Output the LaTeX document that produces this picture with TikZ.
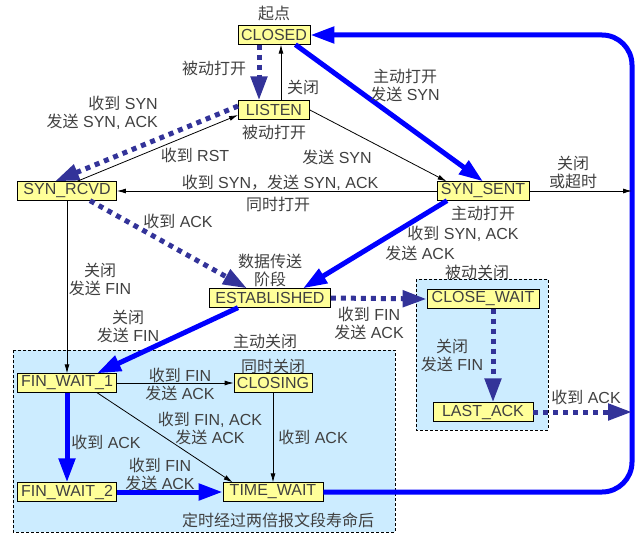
\documentclass[tikz,border=0pt]{standalone}
\usepackage{fontspec}
\setmainfont{Liberation Sans}
\newfontfamily\cjk{Noto Sans CJK SC}
\newcommand{\zh}[1]{{\cjk #1}}
\usetikzlibrary{arrows.meta}
\usetikzlibrary{positioning}
\definecolor{stfill}{RGB}{255,255,153}
\definecolor{zonefill}{RGB}{204,236,255}
\definecolor{txt}{RGB}{64,64,64}
\definecolor{dotblue}{RGB}{51,51,153}
\definecolor{fatblue}{RGB}{0,0,255}
\begin{document}
\begin{tikzpicture}[x=1pt,y=-1pt,font=\fontsize{16}{18}\selectfont,text=txt,
	st/.style={draw,fill=stfill,inner sep=1pt,minimum height=18.5pt,line width=0.8pt},
	zone/.style={draw,dash pattern=on 3pt off 2pt,fill=zonefill,line width=0.7pt},
	blk/.style={line width=0.8pt,-{Latex[length=9pt,width=5pt]}},
	fat/.style={fatblue,line width=5pt,-{Triangle[length=24pt,width=16pt]}},
	dots/.style={dotblue,line width=5pt,dash pattern=on 5pt off 5pt,-{Triangle[length=24pt,width=16pt]}},
	lbl/.style={align=center,inner sep=0pt}]
				\useasboundingbox (0,0) rectangle (642,535);
				\draw [zone] (13,350) rectangle (395,532); \draw [zone] (416,279) rectangle (548,430);
				\coordinate (rt) at (632,0);
				% states
				\node (CLOSED) [st,minimum width=72pt] at (274,35) {CLOSED}; \node (LISTEN) [st,minimum width=71pt] at (274,110) {LISTEN};
				\node (RCVD) [st,minimum width=99pt] at (67,191) {SYN\_RCVD}; \node (SENT) [st,minimum width=92pt] at (483,191) {SYN\_SENT};
				\node (EST) [st,minimum width=121pt] at (270,298) {ESTABLISHED}; \node (CW) [st,minimum width=112pt] at (483,299) {CLOSE\_WAIT};
				\node (LA) [st,minimum width=100pt] at (483,412) {LAST\_ACK};
				\node (FW1) [st,minimum width=99pt] at (67,383) {FIN\_WAIT\_1}; \node (CLOSING) [st,minimum width=78pt] at (273,383) {CLOSING};
				\node (FW2) [st,minimum width=99pt] at (67,492) {FIN\_WAIT\_2}; \node (TW) [st,minimum width=100pt] at (273,492) {TIME\_WAIT};
				% transitions
				\draw [fatblue,line width=5pt,rounded corners=30pt,-{Triangle[length=24pt,width=16pt]}] (TW.east) -- (TW.east -| rt) -- (CLOSED.east -| rt) -- (CLOSED.east);
				\draw [dots] ([xshift=-15pt]CLOSED.south) -- ([xshift=-15pt]LISTEN.north); \draw [blk] ([xshift=7pt]LISTEN.north) -- ([xshift=7pt]CLOSED.south);
				\draw [fat] ([xshift=-15pt]CLOSED.south east) -- (SENT.north); \draw [blk] (LISTEN.east) -- ([xshift=10pt]SENT.north west);
				\draw [dots] ([yshift=4pt]LISTEN.west) -- ([xshift=-12pt]RCVD.north); \draw [blk] ([xshift=10pt]RCVD.north) -- ([yshift=-5pt]LISTEN.west);
				\draw [blk] (SENT.west) -- (RCVD.east); \draw [blk] (SENT.east) -- (SENT.east -| rt);
				\draw [dots] ([xshift=23pt]RCVD.south) -- ([xshift=-23pt]EST.north); \draw [fat] ([xshift=-36pt]SENT.south) -- ([xshift=33pt]EST.north);
				\draw [dots] (EST.east) -- (CW.west); \draw [fat] ([xshift=-32pt]EST.south) -- ([xshift=30pt]FW1.north);
				\draw [blk] (RCVD.south) -- (FW1.north); \draw [dots] ([xshift=10pt]CW.south) -- ([xshift=10pt]LA.north); \draw [dots] (LA.east) -- (LA.east -| rt);
				\draw [blk] (FW1.east) -- (CLOSING.west); \draw [blk] ([xshift=30pt]FW1.south) -- ([xshift=10pt]TW.north west);
				\draw [blk] (CLOSING.south) -- (TW.north); \draw [fat] (FW1.south) -- (FW2.north); \draw [fat] (FW2.east) -- (TW.west);
				% labels
				\node (start) [lbl,above=4pt of CLOSED] {\zh{起点}};
				\node (passOpen) [lbl] at (214,68) {\zh{被动打开}}; \node (closeA) [lbl] at (303,87) {\zh{关闭}};
				\node (synAck) [lbl,align=right,anchor=east] at (158,113) {\zh{收到} SYN\\\zh{发送} SYN, ACK};
				\node (passOpenB) [lbl,below=5pt of LISTEN] {\zh{被动打开}}; \node (rst) [lbl] at (195,155) {\zh{收到} RST};
				\node (actOpen) [lbl] at (405,85) {\zh{主动打开}\\\zh{发送} SYN}; \node (sendSyn) [lbl] at (337,157) {\zh{发送} SYN};
				\node (simSyn) [lbl] at (280,183) {\zh{收到} SYN\zh{，发送} SYN, ACK}; \node (simOpen) [lbl] at (278,204) {\zh{同时打开}};
				\node (timeout) [lbl] at (573,172) {\zh{关闭}\\\zh{或超时}}; \node (actOpenB) [lbl,below=5pt of SENT] {\zh{主动打开}};
				\node (gotSynAck) [lbl] at (463,234) {\zh{收到} SYN, ACK}; \node (sendAck) [lbl] at (420,253) {\zh{发送} ACK};
				\node (gotAck) [lbl] at (178,221) {\zh{收到} ACK}; \node (data) [lbl,above=1pt of EST] {\zh{数据传送}\\\zh{阶段}};
				\node (finA) [lbl] at (100,279) {\zh{关闭}\\\zh{发送} FIN}; \node (finB) [lbl] at (128,326) {\zh{关闭}\\\zh{发送} FIN};
				\node (gotFin) [lbl] at (369,323) {\zh{收到} FIN\\\zh{发送} ACK};
				\node (actClose) [lbl] at (265,341) {\zh{主动关闭}}; \node (passClose) [lbl] at (477,272) {\zh{被动关闭}};
				\node (finC) [lbl] at (452,355) {\zh{关闭}\\\zh{发送} FIN}; \node (lastAck) [lbl] at (586,397) {\zh{收到} ACK};
				\node (simClose) [lbl,above=-1pt of CLOSING] {\zh{同时关闭}}; \node (finD) [lbl] at (180,384) {\zh{收到} FIN\\\zh{发送} ACK};
				\node (finAck) [lbl] at (210,428) {\zh{收到} FIN, ACK\\\zh{发送} ACK}; \node (ackE) [lbl] at (313,437) {\zh{收到} ACK};
				\node (ackF) [lbl] at (106,442) {\zh{收到} ACK}; \node (finE) [lbl] at (160,474) {\zh{收到} FIN\\\zh{发送} ACK};
				\node (msl) [lbl] at (278,520) {\zh{定时经过两倍报文段寿命后}};
			\end{tikzpicture}
\end{document}
